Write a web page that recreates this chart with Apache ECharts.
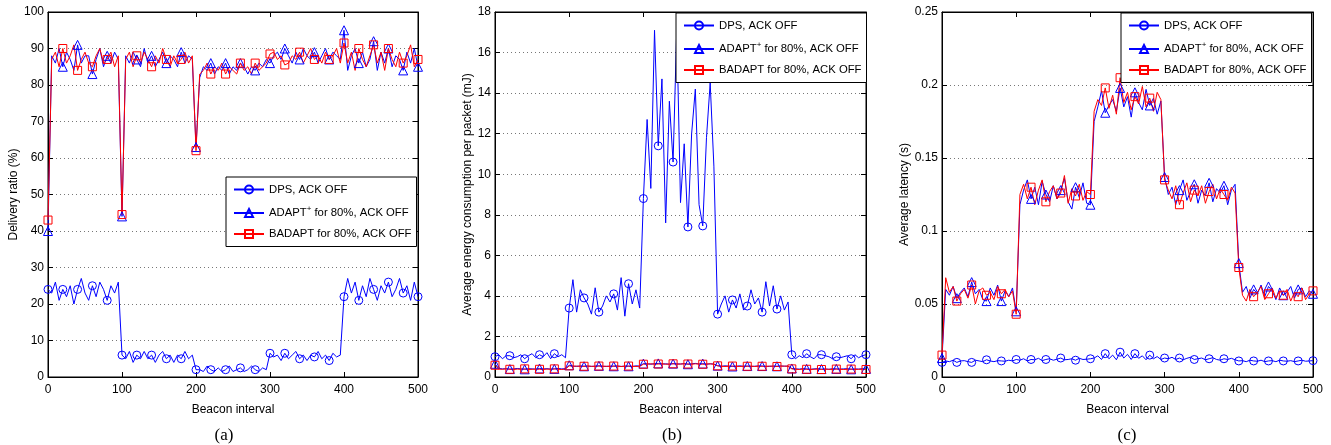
<!DOCTYPE html>
<html>
<head>
<meta charset="utf-8">
<script src="https://cdn.jsdelivr.net/npm/echarts@6/dist/echarts.min.js"></script>
<style>
html,body{margin:0;padding:0;background:#fff;}
#chart{width:1331px;height:445px;}
</style>
</head>
<body>
<div id="chart"></div>
<script>
// Beacon interval positions (every 5 intervals, 0..500)
const beacon = [];
for (let x = 0; x <= 500; x += 5) beacon.push(x);

const seriesNames = ['DPS, ACK OFF', 'ADAPT+ for 80%, ACK OFF', 'BADAPT for 80%, ACK OFF'];
const captions = ['(a)', '(b)', '(c)'];
const yNames = ['Delivery ratio (%)', 'Average energy consumption per packet (mJ)', 'Average latency (s)'];
const xName = 'Beacon interval';

// (a) Delivery ratio (%)
const aDPS = [24,
  23,26,21,24,22,25,20,24,27,23,21,25,22,26,24,21,25,23,26,
  6,
  5,7,4,6,5,7,5,6,4,6,7,5,6,4,6,5,7,5,6,
  2,
  2,1.5,3,2,1.5,2.5,1.5,2,3,1.5,2,2.5,1.5,2,3,2,1.5,2.5,2,
  6.5,
  5.5,6,4.5,6.5,5,6,7,5,6,4.5,6,5.5,7,5,6,4.5,6.5,5.5,6,
  22,
  27,23,26,21,25,22,27,24,21,25,23,26,22,24,27,23,25,21,26,22];
const aADAPT = [40,
  88,86,90,85,89,87,84,91,86,88,88,83,87,90,85,88,86,89,87,
  44,
  88,86,89,87,85,90,86,88,85,87,89,86,88,87,85,89,86,88,87,
  63,
  82,85,84,86,83,85,84,86,83,85,84,86,85,83,85,84,86,85,87,
  86,
  88,89,87,90,88,86,89,87,90,88,87,89,86,88,90,87,89,88,87,
  95,
  84,88,90,86,89,85,87,92,84,89,86,90,85,88,87,84,89,86,90,85];
const aBADAPT = [43,
  87,89,85,90,86,88,91,84,87,89,86,85,88,90,86,87,89,85,88,
  44.5,
  87,89,85,88,86,89,87,85,88,86,90,87,85,88,86,87,89,86,88,
  62,
  83,84,86,83,85,84,86,83,85,84,83,86,84,85,83,86,84,85,86,
  88.5,
  89,87,88,85.5,86,88,87,89,86,88,90,87,88,86,89,87,88,90,86,
  91.5,
  86,89,84,90,87,85,88,91,86,89,84,90,87,85,89,86,88,91,85,87];

// (b) Average energy consumption per packet (mJ)
const bDPS = [1.0,
  1.1,0.9,1.05,1.05,0.95,1.0,1.1,0.9,1.05,1.15,0.95,1.1,1.0,1.2,0.9,1.15,1.0,1.1,0.95,
  3.4,
  4.8,3.2,4.3,3.9,3.6,3.1,4.4,3.2,3.5,4.0,3.7,4.1,3.3,4.9,3.0,4.6,3.6,4.3,3.4,
  8.8,
  12.7,9.3,17.1,11.4,14.7,7.6,13.6,10.6,17.2,8.6,11.5,7.4,12.0,14.2,8.5,7.45,11.8,14.5,10.4,
  3.1,
  3.6,4.0,3.2,3.8,3.4,4.1,3.3,3.5,4.3,3.6,3.9,3.2,4.7,3.5,4.5,3.35,4.0,3.3,3.7,
  1.1,
  0.9,1.05,0.95,1.15,1.0,0.9,1.1,1.1,1.05,1.0,0.9,1.0,0.95,1.0,1.05,0.9,1.1,0.95,1.05,1.1];
const bADAPT = [0.65,
  0.42,0.4,0.41,0.39,0.4,0.42,0.4,0.38,0.41,0.4,0.39,0.42,0.4,0.41,0.39,0.4,0.42,0.4,0.41,
  0.58,
  0.54,0.52,0.55,0.53,0.54,0.52,0.54,0.55,0.53,0.52,0.54,0.53,0.55,0.52,0.54,0.53,0.52,0.55,0.54,
  0.66,
  0.65,0.63,0.66,0.67,0.64,0.65,0.63,0.66,0.65,0.64,0.66,0.63,0.65,0.67,0.64,0.66,0.63,0.65,0.64,
  0.56,
  0.53,0.55,0.54,0.52,0.53,0.55,0.53,0.54,0.52,0.53,0.55,0.54,0.53,0.52,0.54,0.53,0.55,0.53,0.54,
  0.42,
  0.4,0.39,0.41,0.4,0.38,0.4,0.41,0.39,0.4,0.38,0.41,0.4,0.39,0.4,0.41,0.38,0.4,0.39,0.41,0.4];
const bBADAPT = [0.58,
  0.39,0.38,0.4,0.38,0.37,0.39,0.38,0.4,0.37,0.38,0.39,0.38,0.37,0.39,0.38,0.4,0.38,0.37,0.39,
  0.55,
  0.53,0.54,0.52,0.53,0.54,0.53,0.52,0.54,0.53,0.53,0.52,0.54,0.53,0.52,0.53,0.54,0.53,0.52,0.53,
  0.63,
  0.64,0.65,0.63,0.64,0.65,0.63,0.64,0.65,0.63,0.64,0.65,0.64,0.63,0.65,0.64,0.63,0.64,0.65,0.63,
  0.55,
  0.53,0.52,0.53,0.54,0.53,0.52,0.53,0.53,0.54,0.52,0.53,0.53,0.52,0.54,0.53,0.52,0.53,0.54,0.53,
  0.4,
  0.38,0.37,0.39,0.38,0.37,0.38,0.39,0.37,0.38,0.38,0.37,0.39,0.38,0.37,0.38,0.39,0.37,0.38,0.38,0.37];

// (c) Average latency (s)
const cDPS = [0.010,
  0.011,0.0105,0.0115,0.010,0.011,0.0112,0.0105,0.010,0.0115,0.011,0.0105,0.0118,0.011,0.0105,0.0112,0.011,0.0108,0.0115,0.011,
  0.012,
  0.0115,0.0125,0.011,0.012,0.0118,0.0128,0.0112,0.012,0.0125,0.0115,0.0122,0.013,0.0118,0.012,0.0125,0.0115,0.0128,0.012,0.0122,
  0.0125,
  0.013,0.0145,0.012,0.016,0.0125,0.015,0.0118,0.017,0.013,0.0155,0.012,0.016,0.0128,0.0145,0.0118,0.015,0.0125,0.014,0.012,
  0.013,
  0.0125,0.0135,0.012,0.013,0.0118,0.0128,0.0135,0.012,0.0125,0.013,0.0118,0.0125,0.0132,0.012,0.0115,0.0125,0.012,0.0128,0.0118,
  0.011,
  0.0112,0.0105,0.0115,0.011,0.0108,0.0115,0.0105,0.011,0.0112,0.0105,0.0115,0.011,0.0108,0.0112,0.0105,0.011,0.0115,0.0108,0.011,0.0112];
const cADAPT = [0.013,
  0.060,0.056,0.062,0.054,0.058,0.061,0.055,0.065,0.057,0.060,0.053,0.052,0.061,0.056,0.063,0.052,0.059,0.055,0.061,
  0.045,
  0.118,0.128,0.135,0.122,0.13,0.118,0.134,0.125,0.12,0.131,0.122,0.128,0.136,0.12,0.115,0.13,0.123,0.133,0.119,
  0.118,
  0.175,0.185,0.196,0.181,0.186,0.19,0.182,0.198,0.185,0.192,0.178,0.195,0.188,0.183,0.197,0.186,0.191,0.18,0.189,
  0.137,
  0.125,0.13,0.118,0.128,0.135,0.121,0.127,0.132,0.119,0.128,0.124,0.133,0.12,0.129,0.126,0.131,0.118,0.128,0.132,
  0.078,
  0.058,0.062,0.054,0.06,0.057,0.063,0.055,0.062,0.059,0.053,0.061,0.056,0.058,0.062,0.054,0.06,0.061,0.055,0.059,0.057];
const cBADAPT = [0.015,
  0.068,0.058,0.062,0.052,0.057,0.06,0.054,0.063,0.05,0.059,0.061,0.056,0.058,0.053,0.062,0.057,0.06,0.055,0.059,
  0.043,
  0.125,0.132,0.122,0.13,0.118,0.128,0.135,0.12,0.127,0.131,0.122,0.126,0.138,0.119,0.129,0.124,0.132,0.121,0.127,
  0.125,
  0.182,0.19,0.186,0.198,0.184,0.193,0.18,0.205,0.188,0.195,0.183,0.192,0.187,0.199,0.185,0.191,0.182,0.195,0.19,
  0.135,
  0.128,0.122,0.131,0.118,0.126,0.133,0.12,0.128,0.124,0.131,0.119,0.127,0.132,0.122,0.129,0.125,0.121,0.13,0.126,
  0.075,
  0.056,0.052,0.06,0.055,0.058,0.062,0.053,0.057,0.061,0.054,0.059,0.056,0.06,0.052,0.058,0.055,0.061,0.053,0.057,0.059];

const yMax = [100, 18, 0.25];
const yInterval = [10, 2, 0.05];

const FONT = "'Liberation Sans', Arial, sans-serif";
const BLUE = '#0000ff', RED = '#ff0000';

const grids = [
  {left: 48, top: 12, width: 370, height: 365},
  {left: 495, top: 12, width: 371, height: 365},
  {left: 942, top: 12, width: 371, height: 365}
];
const yNameGap = [27, 21, 29];
const legendPos = [{left: 226, top: 177}, {left: 676, top: 13}, {left: 1121, top: 13}];
const captionX = [224, 672, 1127];

function mk(vals) {
  return beacon.map((x, i) => i % 4 === 0 ? [x, vals[i]] : {value: [x, vals[i]], symbol: 'none'});
}

function lineSeries(name, vals, gi, color, symbol, size) {
  return {
    name: name, type: 'line', xAxisIndex: gi * 2, yAxisIndex: gi * 2,
    data: mk(vals), symbol: symbol, symbolSize: size, showAllSymbol: true,
    lineStyle: {color: color, width: 1},
    itemStyle: {color: 'rgba(0,0,0,0)', borderColor: color, borderWidth: 1},
    emphasis: {disabled: true}, animation: false, silent: true
  };
}

const axisLine = {show: true, onZero: false, lineStyle: {color: '#000', width: 1}};
const xAxes = [], yAxes = [];
for (let g = 0; g < 3; g++) {
  xAxes.push({
    gridIndex: g, type: 'value', min: 0, max: 500, interval: 100, position: 'bottom',
    name: xName, nameLocation: 'middle', nameGap: 27,
    nameTextStyle: {fontSize: 12, color: '#000', fontFamily: FONT},
    axisLine: axisLine, axisTick: {inside: true, length: 5, lineStyle: {color: '#000'}},
    axisLabel: {color: '#000', fontSize: 12, margin: 7, fontFamily: FONT},
    splitLine: {show: false}
  });
  xAxes.push({
    gridIndex: g, type: 'value', min: 0, max: 500, interval: 100, position: 'top',
    axisLine: axisLine, axisTick: {inside: true, length: 5, lineStyle: {color: '#000'}},
    axisLabel: {show: false}, splitLine: {show: false}
  });
  yAxes.push({
    gridIndex: g, type: 'value', min: 0, max: yMax[g], interval: yInterval[g], position: 'left',
    name: yNames[g], nameLocation: 'middle', nameGap: yNameGap[g],
    nameTextStyle: {fontSize: 12, color: '#000', fontFamily: FONT},
    axisLine: axisLine, axisTick: {inside: true, length: 5, lineStyle: {color: '#000'}},
    axisLabel: {color: '#000', fontSize: 12, margin: 4, fontFamily: FONT},
    splitLine: {show: true, lineStyle: {color: '#777', width: 1, type: [1, 3]}}
  });
  yAxes.push({
    gridIndex: g, type: 'value', min: 0, max: yMax[g], interval: yInterval[g], position: 'right',
    axisLine: axisLine, axisTick: {inside: true, length: 5, lineStyle: {color: '#000'}},
    axisLabel: {show: false}, splitLine: {show: false}
  });
}

const data = [[aDPS, aADAPT, aBADAPT], [bDPS, bADAPT, bBADAPT], [cDPS, cADAPT, cBADAPT]];
const series = [];
for (let g = 0; g < 3; g++) {
  series.push(lineSeries(seriesNames[0], data[g][0], g, BLUE, 'circle', 8));
  series.push(lineSeries(seriesNames[1], data[g][1], g, BLUE, 'triangle', 9));
  series.push(lineSeries(seriesNames[2], data[g][2], g, RED, 'rect', 8));
}

const legends = legendPos.map(p => ({
  orient: 'vertical', left: p.left, top: p.top, data: seriesNames,
  itemWidth: 30, itemHeight: 10, itemGap: 10, padding: [7, 5, 7, 7],
  borderColor: '#000', borderWidth: 1, backgroundColor: '#fff',
  selectedMode: false,
  textStyle: {fontFamily: FONT, fontSize: 11.3, color: '#000',
    rich: {sup: {fontFamily: FONT, fontSize: 8, color: '#000', padding: [0, 0, 8, 0]}}},
  formatter: n => n.replace('ADAPT+', 'ADAPT{sup|+}')
}));

const graphics = captions.map((c, i) => ({
  type: 'text', x: captionX[i], y: 436,
  style: {text: c, font: "17px 'Liberation Serif', 'Times New Roman', serif", fill: '#000',
    textAlign: 'center', textVerticalAlign: 'middle', align: 'center', verticalAlign: 'middle'}
}));

const chart = echarts.init(document.getElementById('chart'), null, {renderer: 'canvas'});
chart.setOption({
  animation: false,
  backgroundColor: '#fff',
  grid: grids.map(g => Object.assign({show: true, borderColor: '#000', borderWidth: 1, containLabel: false}, g)),
  xAxis: xAxes,
  yAxis: yAxes,
  legend: legends,
  graphic: graphics,
  series: series
});
</script>
</body>
</html>
